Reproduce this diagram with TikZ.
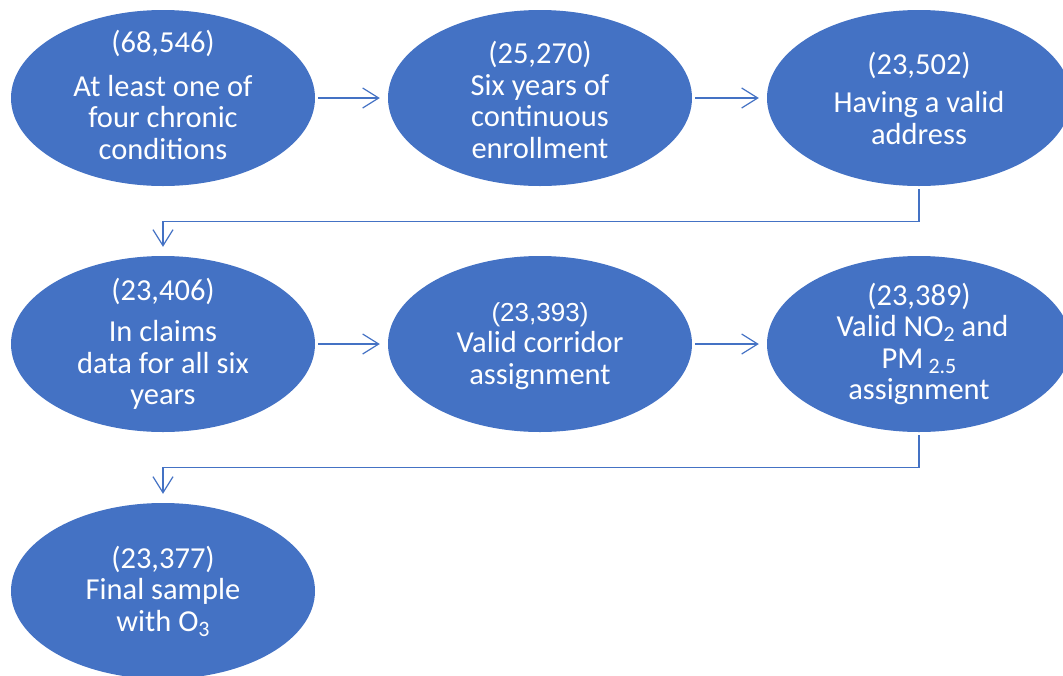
\documentclass[tikz,border=0pt]{standalone}
\usepackage{fontspec}
\setmainfont{Carlito}
\newfontfamily\arialish{Liberation Sans}
\usetikzlibrary{arrows.meta,shapes.geometric}
\definecolor{ublue}{HTML}{4472C4}
\newcommand{\sbs}[1]{\raisebox{-5pt}{\fontsize{22}{22}\selectfont #1}}
\tikzset{
  blob/.style={ellipse, fill=ublue, draw=none, minimum width=304pt, minimum height=176pt, inner sep=0pt},
  txt/.style={text=white, align=center, font=\fontsize{30.5}{31.5}\selectfont, inner sep=0pt},
  arr/.style={draw=ublue, line width=1.2pt, -{Straight Barb[length=16pt,width=20pt,line width=1.2pt]}},
}
\begin{document}
\begin{tikzpicture}[x=1pt,y=-1pt]
\useasboundingbox (0,0) rectangle (1063,675);
\node[blob] (e1) at (163,98) {};
\node[blob] (e2) at (540,98) {};
\node[blob] (e3) at (919,98) {};
\node[blob] (e4) at (163,344) {};
\node[blob] (e5) at (540,344) {};
\node[blob] (e6) at (919,344) {};
\node[blob] (e7) at (163,591) {};
\node[txt] (t1) at ([yshift=3pt]e1.center) {(68,546)\\[12pt]At least one of\\four chronic\\conditions};
\node[txt] (t2) at ([yshift=-2pt]e2.center) {(25,270)\\Six years of\\continuous\\enrollment};
\node[txt] (t3) at (e3) {(23,502)\\[7pt]Having a valid\\address};
\node[txt] (t4) at (e4) {(23,406)\\[10pt]In claims\\data for all six\\years};
\node[txt] (t5) at ([yshift=-2pt]e5.center) {{\arialish\fontsize{26}{26}\selectfont(23,393)}\\Valid corridor\\assignment};
\node[txt] (t6) at (e6) {(23,389)\\\ Valid NO\sbs{2} and\\PM\,\sbs{2.5}\\assignment};
\node[txt] (t7) at (e7) {(23,377)\\Final sample\\with O\sbs{3}};
\draw[arr, shorten <=3pt, shorten >=8pt] (e1.east) -- (e2.west);
\draw[arr, shorten <=3pt, shorten >=8pt] (e2.east) -- (e3.west);
\draw[arr, shorten <=3pt, shorten >=8pt] (e4.east) -- (e5.west);
\draw[arr, shorten <=3pt, shorten >=8pt] (e5.east) -- (e6.west);
\draw[arr, shorten <=3pt, shorten >=9pt] (e3.south) -- ++(0,35) -| (e4.north);
\draw[arr, shorten <=3pt, shorten >=9pt] (e6.south) -- ++(0,35) -| (e7.north);
\end{tikzpicture}
\end{document}
